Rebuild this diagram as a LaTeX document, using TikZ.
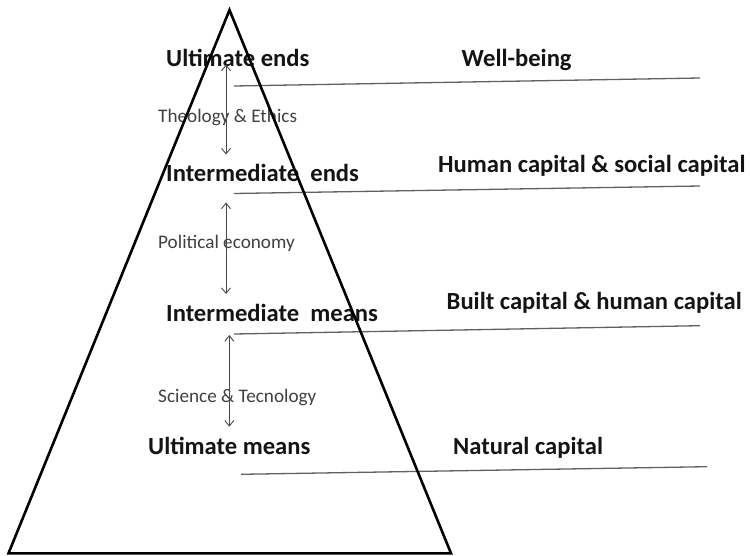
\documentclass[tikz,border=0pt]{standalone}
\usepackage{fontspec}
\setmainfont{Carlito}
\usetikzlibrary{arrows.meta}
\begin{document}
\begin{tikzpicture}[x=1pt,y=-1pt,
  level/.style={font=\fontsize{24.6}{28}\selectfont\bfseries, text=black!92, anchor=base west, inner sep=0pt},
  field/.style={font=\fontsize{19.2}{22}\selectfont, text=black!75, anchor=base west, inner sep=0pt},
  rule/.style={draw=black!62, line width=1.3pt},
  span/.style={draw=black!72, line width=0.9pt,
    {Straight Barb[length=5.5pt,width=9pt]}-{Straight Barb[length=5.5pt,width=9pt]}},
  pyramid/.style={draw=black, line width=2.6pt, line join=miter}]
\useasboundingbox (0,0) rectangle (750,555);

% level names inside the pyramid
\node[level] (ue) at (166,66.7) {Ultimate ends};
\node[level] (ie) at (166,181.7) {Intermediate\ \ ends};
\node[level] (im) at (166,321) {Intermediate\ \ means};
\node[level] (um) at (148,454.3) {Ultimate means};

% disciplines linking the levels
\node[field] (te) at (158,122.7) {Theology \& Ethics};
\node[field] (pe) at (158,248.3) {Political economy};
\node[field] (st) at (158,402.7) {Science \& Tecnology};

% forms of capital on the right
\node[level] (wb) at (461.5,66) {Well-being};
\node[level] (hs) at (438,172.7) {Human capital \& social capital};
\node[level] (bh) at (446.5,309.3) {Built capital \& human capital};
\node[level] (nc) at (453,454.3) {Natural capital};

% separating rules
\coordinate (r1a) at (234,86);    \coordinate (r1b) at (700,78);
\coordinate (r2a) at (234,193.5); \coordinate (r2b) at (700,186);
\coordinate (r3a) at (234,334);   \coordinate (r3b) at (700,325.7);
\coordinate (r4a) at (241,474.3); \coordinate (r4b) at (707,466.7);
\draw[rule] (r1a) -- (r1b);
\draw[rule] (r2a) -- (r2b);
\draw[rule] (r3a) -- (r3b);
\draw[rule] (r4a) -- (r4b);

% double arrows between levels
\coordinate (a1t) at (226,64.5);  \coordinate (a1b) at (226,154.5);
\coordinate (a2t) at (226,202.5); \coordinate (a2b) at (226,294);
\coordinate (a3t) at (229.3,335); \coordinate (a3b) at (229.3,426.7);
\draw[span] (a1t) -- (a1b);
\draw[span] (a2t) -- (a2b);
\draw[span] (a3t) -- (a3b);

% the pyramid
\coordinate (apex) at (229.5,10);
\coordinate (bl) at (8.5,553.3);
\coordinate (br) at (451,553.3);
\draw[pyramid] (apex) -- (bl) -- (br) -- cycle;
\end{tikzpicture}
\end{document}
